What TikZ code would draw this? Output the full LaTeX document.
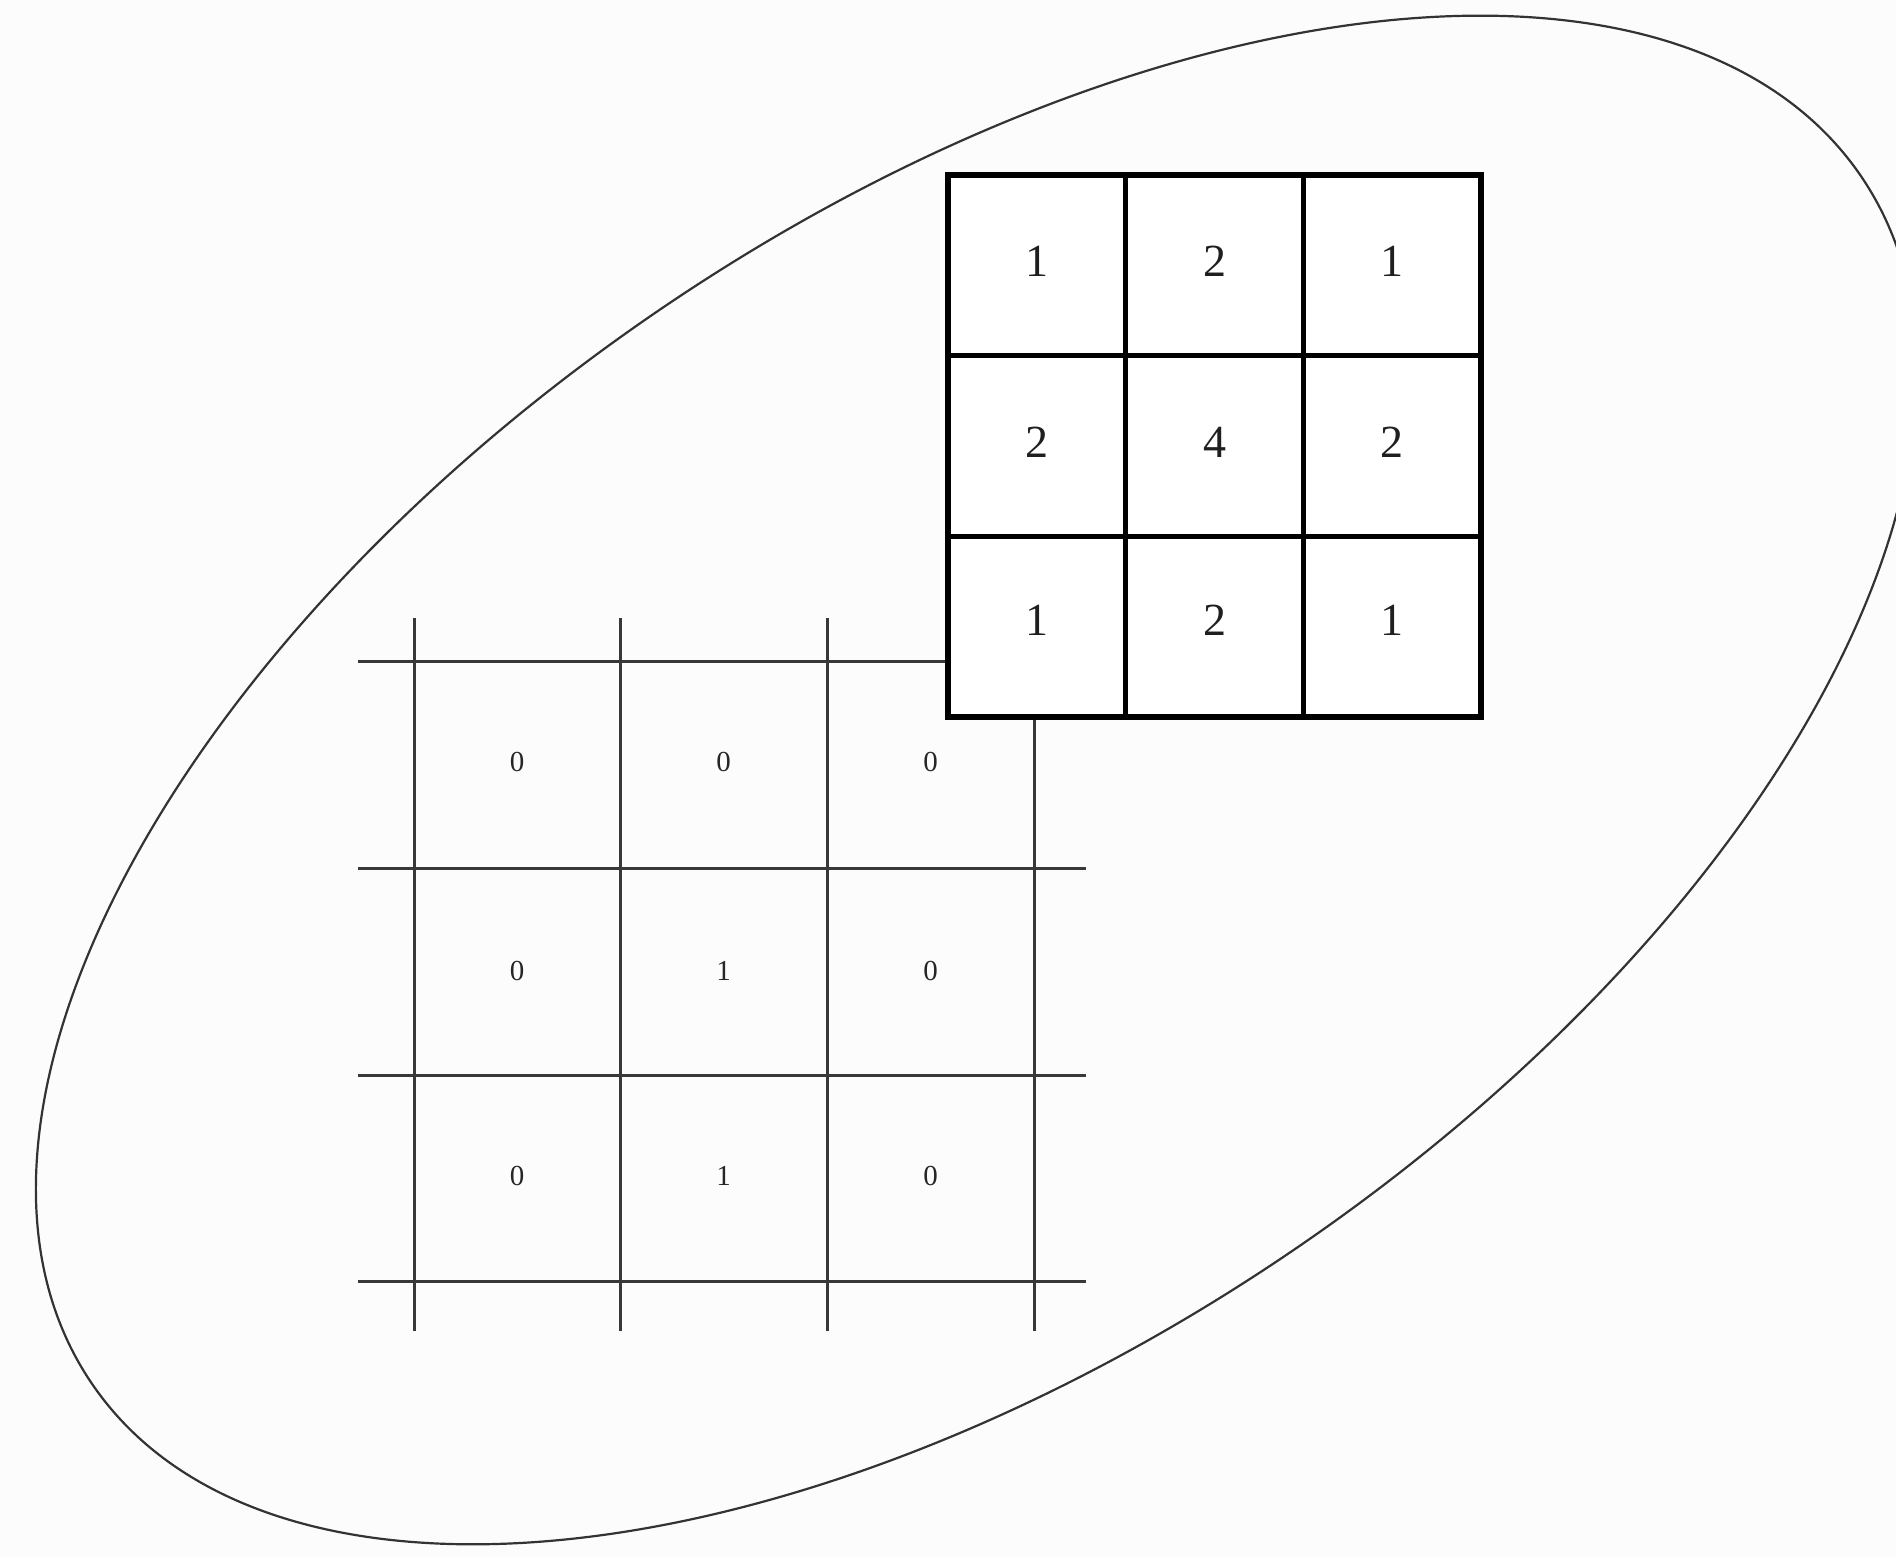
\documentclass[tikz,border=0pt]{standalone}
\usepackage{fontspec}
\setmainfont{Liberation Serif}
\begin{document}
\begin{tikzpicture}[x=1pt,y=1pt,
  bigline/.style={line width=5.5pt, draw=black},
  smallline/.style={line width=3pt, draw=black!78},
  oval/.style={line width=2.2pt, draw=black!80},
  bignum/.style={font=\fontsize{46}{46}\selectfont, text=black!88, inner sep=0pt},
  smallnum/.style={font=\fontsize{29}{29}\selectfont, text=black!85, inner sep=0pt}]
\useasboundingbox (0,0) rectangle (1896,1557);
\fill[white!99!black] (0,0) rectangle (1896,1557);
\begin{scope}
\clip (0,0) rectangle (1896,1557);
\draw[oval, rotate around={34.34:(976.5,777)}] (976.5,777) ellipse [x radius=1071, y radius=567];
\end{scope}
% small grid
\foreach \x in {414,620,827,1034} \draw[smallline] (\x,226) -- (\x,939);
\foreach \y in {895,688,481.5,275} \draw[smallline] (358,\y) -- (1086,\y);
\node[smallnum] (s11) at (517,795) {0};
\node[smallnum] (s12) at (723.5,795) {0};
\node[smallnum] (s13) at (930.5,795) {0};
\node[smallnum] (s21) at (517,586) {0};
\node[smallnum] (s22) at (723.5,586) {1};
\node[smallnum] (s23) at (930.5,586) {0};
\node[smallnum] (s31) at (517,381) {0};
\node[smallnum] (s32) at (723.5,381) {1};
\node[smallnum] (s33) at (930.5,381) {0};
% big kernel
\filldraw[bigline, fill=white] (948,840) rectangle (1481,1382);
\foreach \x in {1125.7,1303.3} \draw[bigline] (\x,840) -- (\x,1382);
\foreach \y in {1201.3,1020.7} \draw[bigline] (948,\y) -- (1481,\y);
\node[bignum] (k11) at (1037,1296) {1};
\node[bignum] (k12) at (1214.5,1296) {2};
\node[bignum] (k13) at (1392,1296) {1};
\node[bignum] (k21) at (1037,1115) {2};
\node[bignum] (k22) at (1214.5,1115) {4};
\node[bignum] (k23) at (1392,1115) {2};
\node[bignum] (k31) at (1037,937) {1};
\node[bignum] (k32) at (1214.5,937) {2};
\node[bignum] (k33) at (1392,937) {1};
\end{tikzpicture}
\end{document}
